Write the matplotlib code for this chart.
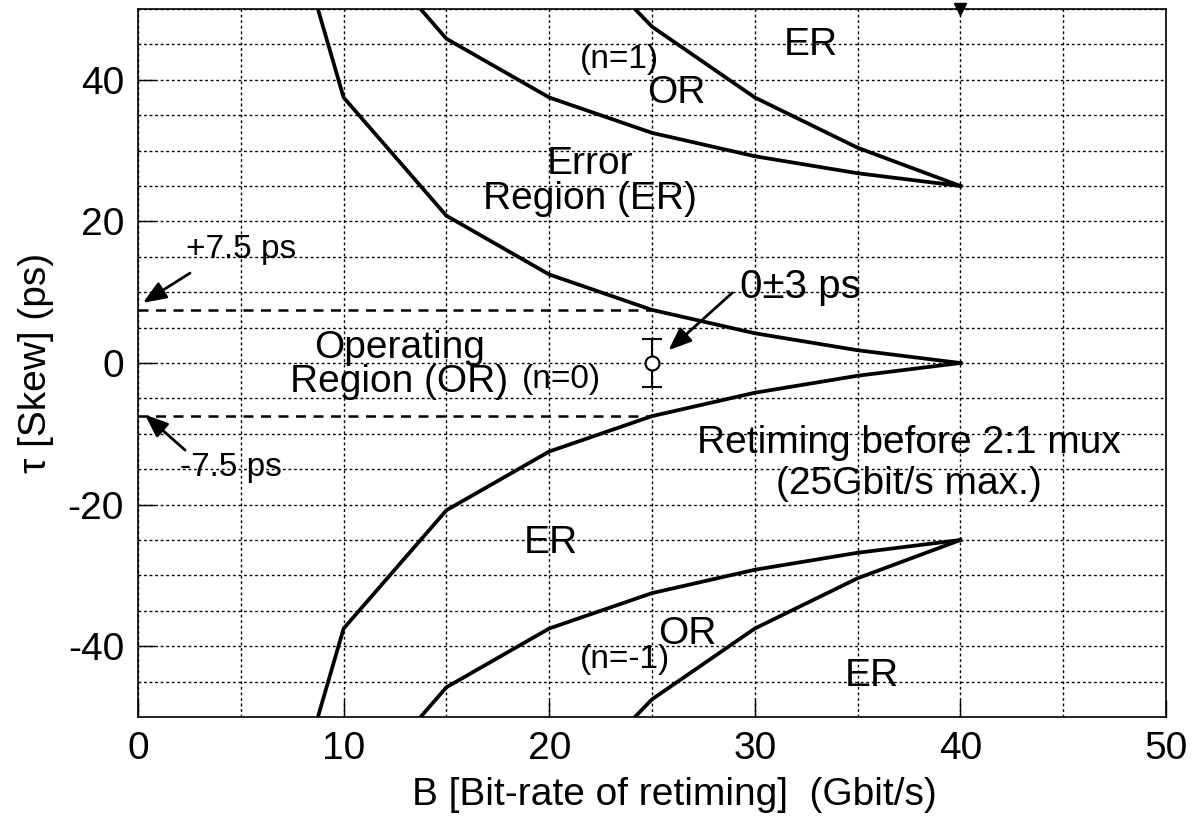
import matplotlib
matplotlib.use('Agg')
import matplotlib.pyplot as plt

plt.rcParams['font.family'] = ['Liberation Sans', 'DejaVu Sans']
plt.rcParams['axes.unicode_minus'] = False

# bit-rate samples (Gbit/s)
rate = [5, 10, 15, 20, 25, 30, 35, 40]
# n=0 boundary (ps)
skew_n0 = [87.5, 37.5, 20.8, 12.5, 7.5, 4.2, 1.8, 0.0]
# n=1 lower boundary (ps)
skew_n1_low = [112.5, 62.5, 45.8, 37.5, 32.5, 29.2, 26.8, 25.0]
# n=1 upper boundary (ps)
rate_n1_up = [20, 25, 30, 35, 40]
skew_n1_up = [62.5, 47.5, 37.5, 30.4, 25.0]

# allowed skew window and measured point
window_x = [0, 25]
window_y = 7.5
meas_x = [25]
meas_y = [0]
meas_err = [3.4]

xticks = [0, 10, 20, 30, 40, 50]
yticks = [-40, -20, 0, 20, 40]

fig = plt.figure(figsize=(12, 8.16), dpi=100)
ax = fig.add_axes([0.115, 0.1213, 0.8567, 0.8677])

line = dict(color='black', lw=2.7, solid_joinstyle='miter')
for sgn in (1, -1):
  ax.plot(rate, [sgn*v for v in skew_n0], **line)
  ax.plot(rate, [sgn*v for v in skew_n1_low], **line)
  ax.plot(rate_n1_up, [sgn*v for v in skew_n1_up], **line)
  ax.plot(window_x, [sgn*window_y]*2, color='black', lw=1.8, ls=(0, (4, 3)))

ax.errorbar(meas_x, meas_y, yerr=meas_err, fmt='o', mfc='white', mec='black',
            ms=10, mew=1.5, ecolor='black', elinewidth=1.5, capsize=7, capthick=1.5)

ax.plot([40], [50], marker='v', color='black', ms=8, clip_on=False, zorder=5)

ax.set_xlim(0, 50)
ax.set_ylim(-50, 50)
ax.set_xticks(xticks)
ax.set_yticks(yticks)
ax.set_xticks(range(0, 51, 5), minor=True)
ax.set_yticks(range(-50, 51, 5), minor=True)
ax.grid(which='both', color='black', lw=1.0, ls=(0, (2, 2)))
ax.tick_params(which='major', direction='in', length=12, width=1, labelsize=28, pad=10)
ax.tick_params(which='minor', length=0)
for s in ax.spines.values():
  s.set_linewidth(1.2)

ax.set_xlabel('B [Bit-rate of retiming]  (Gbit/s)', fontsize=28, labelpad=8)
ax.xaxis.set_label_coords(0.522, -0.085)
ax.set_ylabel('\u03c4 [Skew] (ps)', fontsize=28, labelpad=10)

big = dict(fontsize=28, ha='center', va='center', linespacing=0.95)
small = dict(fontsize=24, ha='center', va='center')
ax.text(22.0, 25.6, 'Error\nRegion (ER)', **big)
ax.text(12.7, -0.3, 'Operating\nRegion (OR)', **big)
ax.text(20.6, -2.4, '(n=0)', **small)
ax.text(23.4, 42.8, '(n=1)', **small)
ax.text(26.2, 38.1, 'OR', **big)
ax.text(32.7, 44.9, 'ER', **big)
ax.text(20.1, -25.4, 'ER', **big)
ax.text(26.7, -38.3, 'OR', **big)
ax.text(23.7, -41.9, '(n=-1)', **small)
ax.text(35.7, -44.2, 'ER', **big)
ax.text(37.5, -14.2, 'Retiming before 2:1 mux\n(25Gbit/s max.)',
        fontsize=28, ha='center', va='center', linespacing=1.2)

ax.text(5.0, 16.0, '+7.5 ps', **small)
ax.text(4.5, -14.8, '-7.5 ps', **small)
ax.text(32.2, 10.7, '0\u00b13 ps', fontsize=29, ha='center', va='center')

arrow = dict(arrowstyle='-|>,head_length=0.7,head_width=0.28', color='black',
             lw=2, mutation_scale=20, shrinkA=0, shrinkB=0)
ax.annotate('', xy=(0.24, 8.5), xytext=(2.53, 12.7), arrowprops=arrow)
ax.annotate('', xy=(0.34, -7.3), xytext=(2.29, -12.3), arrowprops=arrow)
ax.annotate('', xy=(25.8, 1.8), xytext=(28.9, 9.9), arrowprops=arrow)

fig.savefig('out.png', dpi=100)
